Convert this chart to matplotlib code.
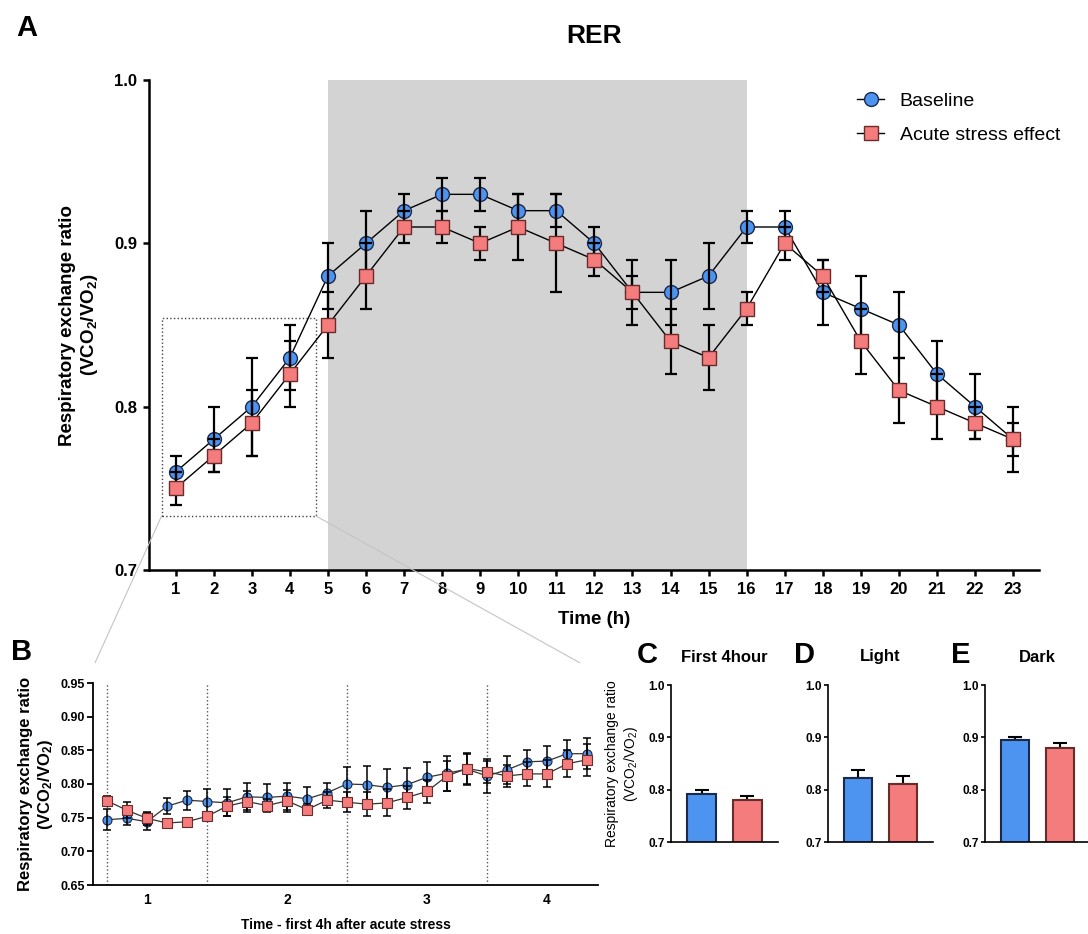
import matplotlib
matplotlib.use("Agg")
import matplotlib.pyplot as plt
from matplotlib.patches import Rectangle, ConnectionPatch
from matplotlib.lines import Line2D

plt.rcParams['font.family'] = ['Liberation Sans', 'DejaVu Sans']
plt.rcParams['mathtext.fontset'] = 'custom'
plt.rcParams['mathtext.rm'] = 'Liberation Sans'
plt.rcParams['mathtext.bf'] = 'Liberation Sans:bold'
plt.rcParams['mathtext.it'] = 'Liberation Sans:italic'

# ---- data: panel A (hourly RER) ----
hours = list(range(1, 24))
base = [0.76, 0.78, 0.80, 0.83, 0.88, 0.90, 0.92, 0.93, 0.93, 0.92, 0.92, 0.90,
        0.87, 0.87, 0.88, 0.91, 0.91, 0.87, 0.86, 0.85, 0.82, 0.80, 0.78]
base_err = [0.01, 0.02, 0.03, 0.02, 0.02, 0.02, 0.01, 0.01, 0.01, 0.01, 0.01, 0.01,
            0.01, 0.02, 0.02, 0.01, 0.01, 0.02, 0.02, 0.02, 0.02, 0.02, 0.01]
stress = [0.75, 0.77, 0.79, 0.82, 0.85, 0.88, 0.91, 0.91, 0.90, 0.91, 0.90, 0.89,
          0.87, 0.84, 0.83, 0.86, 0.90, 0.88, 0.84, 0.81, 0.80, 0.79, 0.78]
stress_err = [0.01, 0.01, 0.02, 0.02, 0.02, 0.02, 0.01, 0.01, 0.01, 0.02, 0.03, 0.01,
              0.02, 0.02, 0.02, 0.01, 0.01, 0.01, 0.02, 0.02, 0.02, 0.01, 0.02]
dark_start, dark_end = 5, 16
zoom_x0, zoom_x1, zoom_y0, zoom_y1 = 0.63, 4.69, 0.733, 0.854

# ---- data: panel B (first 4h after stress) ----
b_idx = list(range(25))
b_base = [0.747, 0.749, 0.744, 0.767, 0.776, 0.774, 0.772, 0.781, 0.780, 0.782,
          0.778, 0.787, 0.800, 0.799, 0.795, 0.799, 0.810, 0.816, 0.822, 0.812,
          0.821, 0.833, 0.834, 0.845, 0.845]
b_base_err = [0.016, 0.010, 0.013, 0.012, 0.014, 0.018, 0.020, 0.020, 0.020, 0.020,
              0.018, 0.015, 0.025, 0.027, 0.027, 0.025, 0.023, 0.026, 0.023, 0.025,
              0.021, 0.018, 0.022, 0.020, 0.023]
b_stress = [0.775, 0.761, 0.749, 0.742, 0.744, 0.752, 0.767, 0.774, 0.768, 0.775,
            0.762, 0.776, 0.773, 0.770, 0.772, 0.780, 0.789, 0.812, 0.823, 0.818,
            0.812, 0.815, 0.815, 0.830, 0.836]
b_stress_err = [0.007, 0.012, 0.010, 0.005, 0.004, 0.004, 0.014, 0.015, 0.010, 0.016,
                0.008, 0.012, 0.015, 0.018, 0.020, 0.017, 0.017, 0.022, 0.023, 0.016,
                0.016, 0.018, 0.020, 0.020, 0.024]
b_hour_starts = [0, 5, 12, 19]
b_hour_ticks = [2, 9, 16, 22]
b_hour_labels = ['1', '2', '3', '4']

# ---- data: panels C, D, E (means) ----
bar_titles = ['First 4hour', 'Light', 'Dark']
bar_letters = ['C', 'D', 'E']
bar_base = [0.792, 0.823, 0.894]
bar_base_err = [0.007, 0.015, 0.007]
bar_stress = [0.781, 0.811, 0.879]
bar_stress_err = [0.007, 0.015, 0.010]

BLUE = '#4d94f0'
RED = '#f47c7c'
BLUE_EDGE = '#1b2a4a'
RED_EDGE = '#6a2b2b'

W, H = 1088, 934
fig = plt.figure(figsize=(W / 100, H / 100), dpi=100)


def px_rect(l, t, r, b):
    return [l / W, 1 - b / H, (r - l) / W, (b - t) / H]


def fig_text(x, y, s, **kw):
    fig.text(x / W, 1 - y / H, s, ha='center', va='center', **kw)


ylab = 'Respiratory exchange ratio\n(VCO$_\\mathbf{2}$/VO$_\\mathbf{2}$)'

# ---------------- Panel A ----------------
ax = fig.add_axes(px_rect(149, 80, 1039, 570))
ax.axvspan(dark_start, dark_end, color='#d3d3d3', lw=0, zorder=0)
ax.plot(hours, base, '-', color='black', lw=1, marker='o', ms=10,
        mfc=BLUE, mec=BLUE_EDGE, mew=1, zorder=2)
ax.errorbar(hours, base, yerr=base_err, fmt='none', ecolor='black',
            elinewidth=1.6, capsize=4.5, capthick=1.6, zorder=3)
ax.errorbar(hours, stress, yerr=stress_err, fmt='none', ecolor='black',
            elinewidth=1.6, capsize=4.5, capthick=1.6, zorder=3)
ax.plot(hours, stress, '-', color='black', lw=1, marker='s', ms=9.5,
        mfc=RED, mec=RED_EDGE, mew=1, zorder=4)
ax.add_patch(Rectangle((zoom_x0, zoom_y0), zoom_x1 - zoom_x0, zoom_y1 - zoom_y0,
                       fill=False, ls=':', lw=1, ec='#444444', zorder=1))
ax.set_xlim(0.3, 23.68)
ax.set_ylim(0.7, 1.0)
ax.set_xticks(hours)
ax.set_yticks([0.7, 0.8, 0.9, 1.0])
ax.set_yticklabels(['0.7', '0.8', '0.9', '1.0'])
for s in ['top', 'right']:
    ax.spines[s].set_visible(False)
for s in ['left', 'bottom']:
    ax.spines[s].set_linewidth(1.8)
ax.tick_params(width=1.8, length=4.5, labelsize=12, pad=4)
for lab in ax.get_xticklabels() + ax.get_yticklabels():
    lab.set_fontweight('bold')
ax.set_xlabel('Time (h)', fontsize=13.5, fontweight='bold', labelpad=10)
ax.set_ylabel(ylab, fontsize=13.5, fontweight='bold', labelpad=10)

handles = [
    Line2D([], [], color='black', lw=1, marker='o', ms=10, mfc=BLUE, mec=BLUE_EDGE),
    Line2D([], [], color='black', lw=1, marker='s', ms=9.5, mfc=RED, mec=RED_EDGE),
]
fig.legend(handles, ['Baseline', 'Acute stress effect'], loc='upper left',
           bbox_to_anchor=(857 / W, 1 - 92 / H), frameon=False, fontsize=14,
           handlelength=1.4, handletextpad=0.8, labelspacing=0.85,
           borderpad=0, borderaxespad=0)

fig_text(594, 36, 'RER', fontsize=19, fontweight='bold')
fig_text(27, 28, 'A', fontsize=21, fontweight='bold')

# ---------------- Panel B ----------------
bx = fig.add_axes(px_rect(93, 683, 598, 885))
for xs in b_hour_starts:
    bx.axvline(xs, color='#555555', ls=':', lw=1, zorder=1)
bx.plot(b_idx, b_base, '-', color='#333333', lw=0.9, marker='o', ms=6.5,
        mfc=BLUE, mec=BLUE_EDGE, mew=0.8, zorder=2)
bx.errorbar(b_idx, b_base, yerr=b_base_err, fmt='none', ecolor='black',
            elinewidth=1.1, capsize=3, capthick=1.1, zorder=3)
bx.errorbar(b_idx, b_stress, yerr=b_stress_err, fmt='none', ecolor='black',
            elinewidth=1.1, capsize=3, capthick=1.1, zorder=3)
bx.plot(b_idx, b_stress, '-', color='#333333', lw=0.9, marker='s', ms=6.5,
        mfc=RED, mec=RED_EDGE, mew=0.8, zorder=4)
bx.set_xlim(-0.7, 24.55)
bx.set_ylim(0.65, 0.95)
bx.set_yticks([0.65, 0.70, 0.75, 0.80, 0.85, 0.90, 0.95])
bx.set_yticklabels(['0.65', '0.70', '0.75', '0.80', '0.85', '0.90', '0.95'])
bx.set_xticks(b_hour_ticks)
bx.set_xticklabels(b_hour_labels)
for s in ['top', 'right']:
    bx.spines[s].set_visible(False)
for s in ['left', 'bottom']:
    bx.spines[s].set_linewidth(1.3)
bx.tick_params(axis='y', width=1.3, length=4, labelsize=9, pad=2)
bx.tick_params(axis='x', length=0, labelsize=10, pad=6)
for lab in bx.get_xticklabels() + bx.get_yticklabels():
    lab.set_fontweight('bold')
bx.set_xlabel('Time - first 4h after acute stress', fontsize=10,
              fontweight='bold', labelpad=8)
bx.set_ylabel(ylab, fontsize=12, fontweight='bold', labelpad=4)
fig_text(22, 652, 'B', fontsize=21, fontweight='bold')

# zoom connectors from panel A box to panel B
for xa, xb in [(zoom_x0, 0.004), (zoom_x1, 0.964)]:
    con = ConnectionPatch(xyA=(xa, zoom_y0), coordsA=ax.transData,
                          xyB=(xb, 1.10), coordsB=bx.transAxes,
                          color='#c4c4c4', lw=0.8)
    fig.add_artist(con)

# ---------------- Panels C, D, E ----------------
bar_px = [(671, 778), (828, 933), (985, 1090)]
for i, (l, r) in enumerate(bar_px):
    cx = fig.add_axes(px_rect(l, 685, r, 842))
    cx.bar([0, 1], [bar_base[i], bar_stress[i]], width=0.64, bottom=0,
           color=[BLUE, RED], edgecolor=[BLUE_EDGE, RED_EDGE], linewidth=1.5,
           zorder=2)
    cx.errorbar([0, 1], [bar_base[i], bar_stress[i]],
                yerr=[[0, 0], [bar_base_err[i], bar_stress_err[i]]],
                fmt='none', ecolor='black', elinewidth=1.5, capsize=5,
                capthick=1.5, zorder=1)
    cx.set_xlim(-0.68, 1.68)
    cx.set_ylim(0.7, 1.0)
    cx.set_xticks([])
    cx.set_yticks([0.7, 0.8, 0.9, 1.0])
    cx.set_yticklabels(['0.7', '0.8', '0.9', '1.0'])
    for s in ['top', 'right']:
        cx.spines[s].set_visible(False)
    for s in ['left', 'bottom']:
        cx.spines[s].set_linewidth(1.2)
    cx.tick_params(axis='y', width=1.2, length=3, labelsize=8.5, pad=1.5)
    for lab in cx.get_yticklabels():
        lab.set_fontweight('bold')
    if i == 0:
        cx.set_ylabel('Respiratory exchange ratio\n(VCO$_2$/VO$_2$)',
                      fontsize=10, labelpad=6)
    mid = (l + r) / 2
    fig_text(mid, 657, bar_titles[i], fontsize=12, fontweight='bold')
    fig_text(l - 24, 655, bar_letters[i], fontsize=21, fontweight='bold')

fig.savefig('out.png', dpi=100)
